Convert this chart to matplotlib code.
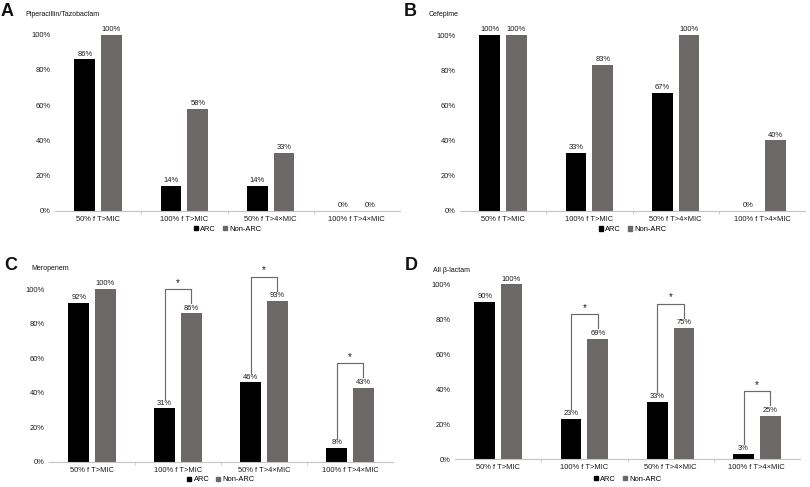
import matplotlib
matplotlib.use("Agg")
import matplotlib.pyplot as plt
from matplotlib.patches import Patch
import numpy as np

plt.rcParams['font.family'] = ['Liberation Sans', 'DejaVu Sans']

categories = ["50% f T>MIC", "100% f T>MIC", "50% f T>4×MIC", "100% f T>4×MIC"]
series_names = ["ARC", "Non-ARC"]

panel_letters = ["A", "B", "C", "D"]
panel_titles = ["Piperacillin/Tazobactam", "Cefepime", "Meropenem", "All β-lactam"]

pip_arc = [86, 14, 14, 0]
pip_nonarc = [100, 58, 33, 0]
cef_arc = [100, 33, 67, 0]
cef_nonarc = [100, 83, 100, 40]
mer_arc = [92, 31, 46, 8]
mer_nonarc = [100, 86, 93, 43]
all_arc = [90, 23, 33, 3]
all_nonarc = [100, 69, 75, 25]

pip_sig = [False, False, False, False]
cef_sig = [False, False, False, False]
mer_sig = [False, True, True, True]
all_sig = [False, True, True, True]

yticks = [0, 20, 40, 60, 80, 100]

W, H = 810, 487
fig = plt.figure(figsize=(W / 100, H / 100), dpi=100)

# axes boxes in pixels: left, right, y of 0%, y of 100%
boxes = [
    (55, 400, 210.7, 34.7),
    (460, 805, 210.7, 35.0),
    (49, 393, 462.0, 289.0),
    (455, 800, 459.3, 284.3),
]
legend_y = [-0.104, -0.109, -0.104, -0.113]
letter_pos = [(1, 12), (404, 11), (4, 265), (405, 266)]
title_pos = [(25, 14), (429, 14), (31, 269), (433, 270)]

datasets = [
    (pip_arc, pip_nonarc, pip_sig),
    (cef_arc, cef_nonarc, cef_sig),
    (mer_arc, mer_nonarc, mer_sig),
    (all_arc, all_nonarc, all_sig),
]

c_arc = "#000000"
c_non = "#6c6867"
axis_col = "#c4c4c4"
txt_col = "#1a1a1a"
bw = 0.24
off = 0.155
fs = 5.4

for i, (arc, non, sig) in enumerate(datasets):
    l, r, y0, y100 = boxes[i]
    ax = fig.add_axes([l / W, (H - y0) / H, (r - l) / W, (y0 - y100) / H])
    x = np.arange(len(categories))
    ax.bar(x - off, arc, bw, color=c_arc, zorder=2)
    ax.bar(x + off, non, bw, color=c_non, zorder=2)
    for xs, vals in ((x - off, arc), (x + off, non)):
        for xv, v in zip(xs, vals):
            ax.annotate(f"{v}%", (xv, v), xytext=(0, 1.2), textcoords="offset points",
                        ha="center", va="bottom", fontsize=fs, color=txt_col,
                        annotation_clip=False)
    for k, s in enumerate(sig):
        if s:
            top = non[k] + 14
            xl, xr = x[k] - off, x[k] + off
            ax.plot([xl, xl, xr, xr], [arc[k] + 5.5, top, top, non[k] + 6],
                    color="#6a6a6a", lw=0.85, clip_on=False, zorder=3)
            ax.text(x[k], top + 0.8, "*", ha="center", va="bottom", fontsize=7,
                    color=txt_col)
    ax.set_xlim(-0.5, len(categories) - 0.5)
    ax.set_ylim(0, 100)
    ax.set_yticks(yticks)
    ax.set_yticklabels([f"{t}%" for t in yticks], fontsize=fs, color=txt_col)
    ax.set_xticks(x)
    ax.set_xticklabels(categories, fontsize=fs, color=txt_col)
    ax.set_xticks(x[:-1] + 0.5, minor=True)
    ax.tick_params(axis="x", which="major", length=0, pad=3.5)
    ax.tick_params(axis="x", which="minor", length=2, color=axis_col, width=0.6)
    ax.tick_params(axis="y", length=0, pad=3)
    for sp in ("top", "right", "left"):
        ax.spines[sp].set_visible(False)
    ax.spines["bottom"].set_color(axis_col)
    ax.spines["bottom"].set_linewidth(0.8)
    handles = [Patch(color=c_arc), Patch(color=c_non)]
    ax.legend(handles, series_names, loc="center", bbox_to_anchor=(0.5, legend_y[i]),
              ncol=2, frameon=False, fontsize=fs, handlelength=0.55, handleheight=0.55,
              handletextpad=0.3, columnspacing=0.9, borderaxespad=0)
    lx, ly = letter_pos[i]
    fig.text(lx / W, 1 - ly / H, panel_letters[i], fontsize=13, fontweight="bold",
             ha="left", va="center", color="#111111")
    tx, ty = title_pos[i]
    fig.text(tx / W, 1 - ty / H, panel_titles[i], fontsize=5.0, ha="left", va="center",
             color="#111111")

fig.savefig("out.png", dpi=100)
